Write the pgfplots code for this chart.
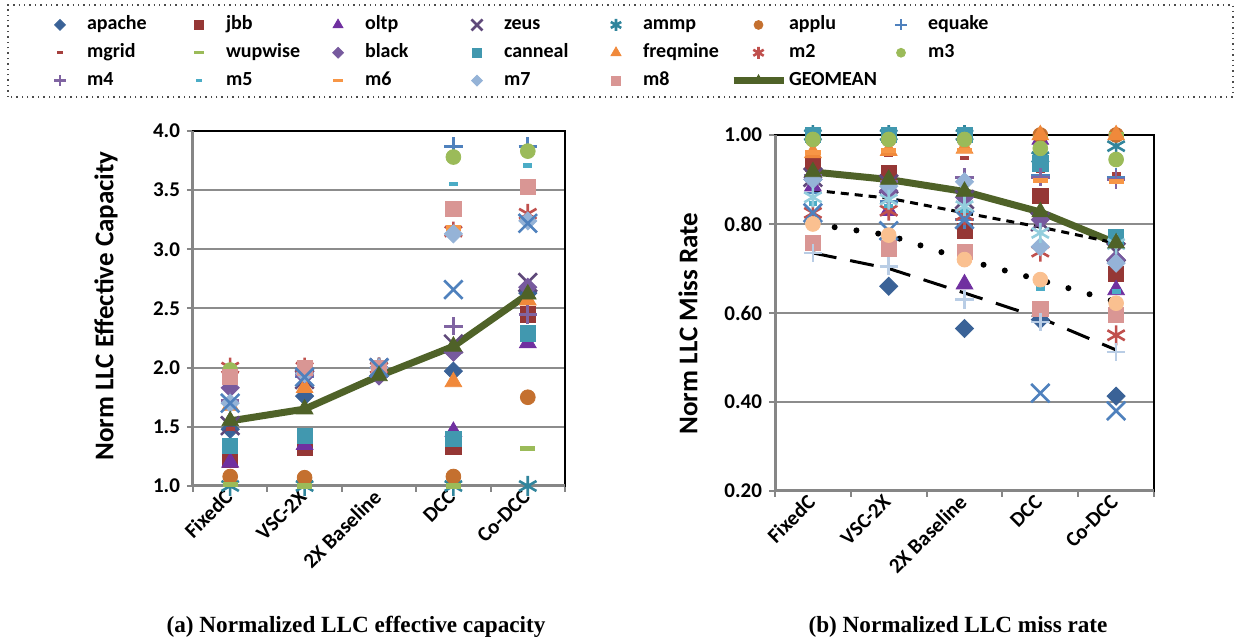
\documentclass[border=0pt]{standalone}
\usepackage{fontspec}
\setmainfont{Carlito}
\newfontfamily\timesfont{Liberation Serif}
\usepackage{pgfplots}
\pgfplotsset{compat=1.18}
\usepackage{pgfplotstable}

\definecolor{capache}{HTML}{3A6297}
\definecolor{cjbb}{HTML}{953735}
\definecolor{coltp}{HTML}{7030A0}
\definecolor{czeus}{HTML}{5F497A}
\definecolor{cammp}{HTML}{31859C}
\definecolor{capplu}{HTML}{C4702F}
\definecolor{cequake}{HTML}{4F81BD}
\definecolor{cmgrid}{HTML}{A5403D}
\definecolor{cwupwise}{HTML}{9BBB59}
\definecolor{cblack}{HTML}{775A9E}
\definecolor{ccanneal}{HTML}{4198AF}
\definecolor{cfreqmine}{HTML}{F0893B}
\definecolor{cmtwo}{HTML}{C0504D}
\definecolor{cmthree}{HTML}{9BBB59}
\definecolor{cmfour}{HTML}{8064A2}
\definecolor{cmfive}{HTML}{4BACC6}
\definecolor{cmsix}{HTML}{F79646}
\definecolor{cmseven}{HTML}{95B3D7}
\definecolor{cmeight}{HTML}{D99694}
\definecolor{cgeo}{HTML}{4F6228}
\definecolor{chx}{HTML}{4F81BD}
\definecolor{chp}{HTML}{B9CDE5}
\definecolor{chc}{HTML}{FAC090}
\definecolor{chs}{HTML}{93CDDD}
\definecolor{axgray}{HTML}{868686}
\definecolor{gridgray}{HTML}{8C8C8C}

\pgfdeclareplotmark{sdash}{\pgfpathrectangle{\pgfpoint{-2.2pt}{-1.1pt}}{\pgfpoint{4.4pt}{2.2pt}}\pgfusepathqfill}
\pgfdeclareplotmark{ldash}{\pgfpathrectangle{\pgfpoint{-3.8pt}{-1.3pt}}{\pgfpoint{7.6pt}{2.6pt}}\pgfusepathqfill}

\pgfplotsset{
 sDiam/.style={only marks, color=#1, mark=square*, mark size=3.2pt, mark options={rotate=45}},
 sSq/.style={only marks, color=#1, mark=square*, mark size=3.8pt},
 sTri/.style={only marks, color=#1, mark=triangle*, mark size=4.8pt},
 sX/.style={only marks, color=#1, mark=x, mark size=6.5pt, line width=1.3pt},
 sAst/.style={only marks, color=#1, mark=asterisk, mark size=5pt, line width=1.3pt},
 sPlus/.style={only marks, color=#1, mark=+, mark size=4.6pt, line width=1.3pt},
 sCirc/.style={only marks, color=#1, mark=*, mark size=3.7pt},
 sSD/.style={only marks, color=#1, mark=sdash},
 sLD/.style={only marks, color=#1, mark=ldash},
 sGeo/.style={color=cgeo, line width=3.5pt, mark=triangle*, mark size=4.8pt, mark options={solid, line width=0.4pt}},
 myaxis/.style={
  scale only axis, clip=false,
  xmin=-0.5, xmax=4.5,
  xtick={0,1,2,3,4}, xticklabels={FixedC,VSC-2X,2X Baseline,DCC,Co-DCC},
  minor xtick={-0.5,0.5,1.5,2.5,3.5,4.5},
  major x tick style={draw=none},
  minor x tick style={draw=axgray, line width=1pt},
  xtick pos=bottom, ytick pos=left,
  tick align=outside,
  major tick length=3pt, minor tick length=3pt,
  ytick style={draw=axgray, line width=1pt},
  ymajorgrids, major grid style={draw=gridgray, line width=1pt},
  axis line style={draw=black, line width=1pt},
  tick label style={font=\fontsize{10.5}{12}\selectfont\bfseries},
  /pgf/number format/assume math mode=true,
  xticklabel style={rotate=45, anchor=east, inner sep=1pt},
  yticklabel style={/pgf/number format/fixed, /pgf/number format/fixed zerofill},
 }
}

\pgfplotstableread{
x apache jbb oltp zeus ammp applu equake mgrid wupwise black canneal freqmine m2 m3 m4 m5 m6 m7 m8 geo hx
0 1.48 1.22 1.20 1.51 1.00 1.08 1.72 1.48 1.01 1.83 1.34 1.68 2.00 1.98 1.72 1.90 1.97 1.70 1.92 1.55 1.70
1 1.76 1.32 1.35 1.90 1.00 1.07 1.92 1.97 1.00 1.93 1.42 1.83 2.00 2.00 1.95 2.00 2.00 1.95 2.00 1.65 1.92
2 2.00 2.00 2.00 2.00 2.00 2.00 2.00 2.00 2.00 1.93 2.00 2.00 2.00 2.00 2.00 2.00 2.00 2.00 2.00 1.93 2.00
3 1.97 1.33 1.46 2.20 1.00 1.08 3.87 3.80 1.00 2.13 1.40 1.88 3.15 3.78 2.35 3.55 3.18 3.13 3.34 2.18 2.66
4 2.63 2.45 2.21 2.72 1.00 1.75 3.87 3.82 1.32 2.68 2.29 2.57 3.30 3.83 2.45 3.71 3.26 3.24 3.53 2.62 3.22
}\capdata

\pgfplotstableread{
x apache jbb oltp zeus ammp applu equake mgrid wupwise black canneal freqmine m2 m3 m4 m5 m6 m7 m8 geo hx hp hc hs la lb lc
0 0.90 0.935 0.885 0.905 1.00 0.99 0.87 0.953 1.00 0.905 1.00 0.96 0.825 0.99 0.91 0.846 0.96 0.90 0.757 0.917 0.825 0.735 0.80 0.86 0.876 0.80 0.735
1 0.66 0.915 0.83 0.89 1.00 0.99 0.85 0.955 1.00 0.875 1.00 0.965 0.83 0.99 0.895 0.84 0.965 0.885 0.745 0.90 0.785 0.705 0.775 0.855 0.858 0.775 0.70
2 0.565 0.785 0.665 0.855 1.00 0.99 0.81 0.948 1.00 0.86 1.00 0.97 0.82 0.99 0.905 0.83 0.965 0.895 0.738 0.873 0.81 0.63 0.72 0.84 0.825 0.72 0.645
3 0.585 0.863 0.99 0.805 0.95 1.00 0.91 0.92 0.995 0.81 0.936 1.00 0.738 0.97 0.905 0.655 0.898 0.749 0.61 0.827 0.42 0.58 0.675 0.78 0.793 0.674 0.589
4 0.413 0.688 0.652 0.737 0.975 1.00 0.905 0.912 1.00 0.72 0.771 1.00 0.55 0.945 0.90 0.648 0.895 0.712 0.596 0.757 0.38 0.512 0.622 0.755 0.757 0.625 0.517
}\missdata

\begin{document}
\begin{tikzpicture}
\useasboundingbox (0,0) rectangle (620.5pt,321pt);

% ---------- left axis ----------
\begin{axis}[myaxis,
  at={(96.5pt,78pt)}, anchor=south west, width=186pt, height=177.5pt,
  ymin=1, ymax=4, ytick={1,1.5,2,2.5,3,3.5,4},
  yticklabel style={/pgf/number format/precision=1},
  ylabel={Norm LLC Effective Capacity},
  every axis y label/.style={at={(axis description cs:-0.234,0.507)}, rotate=90, anchor=center, font=\fontsize{13.5}{15}\selectfont\bfseries},
  legend columns=7, legend cell align=left,
  legend image code/.code={\path[draw=none,fill=none] (0pt,-4pt) rectangle (25pt,4pt); \draw[mark repeat=2,mark phase=2,#1, every mark/.append style={scale=0.6}] plot coordinates {(0pt,0pt) (12.5pt,0pt) (25pt,0pt)};},
  legend style={draw=none, fill=none, inner sep=0pt, outer sep=0pt, at={(-0.4247,1.3297)}, anchor=north west,
    font=\fontsize{10}{11}\selectfont\bfseries,
    nodes={inner sep=1pt, text width=40pt, text height=7pt, text depth=2pt},
    row sep=2.9pt, /tikz/every even column/.append style={column sep=2.5pt}},
]
\addplot[sDiam=capache] table[x=x,y=apache]{\capdata}; \addlegendentry{apache}
\addplot[sSq=cjbb] table[x=x,y=jbb]{\capdata}; \addlegendentry{jbb}
\addplot[sTri=coltp] table[x=x,y=oltp]{\capdata}; \addlegendentry{oltp}
\addplot[sX=czeus] table[x=x,y=zeus]{\capdata}; \addlegendentry{zeus}
\addplot[sAst=cammp] table[x=x,y=ammp]{\capdata}; \addlegendentry{ammp}
\addplot[sCirc=capplu] table[x=x,y=applu]{\capdata}; \addlegendentry{applu}
\addplot[sPlus=cequake] table[x=x,y=equake]{\capdata}; \addlegendentry{equake}
\addplot[sSD=cmgrid] table[x=x,y=mgrid]{\capdata}; \addlegendentry{mgrid}
\addplot[sLD=cwupwise] table[x=x,y=wupwise]{\capdata}; \addlegendentry{wupwise}
\addplot[sDiam=cblack] table[x=x,y=black]{\capdata}; \addlegendentry{black}
\addplot[sSq=ccanneal] table[x=x,y=canneal]{\capdata}; \addlegendentry{canneal}
\addplot[sTri=cfreqmine] table[x=x,y=freqmine]{\capdata}; \addlegendentry{freqmine}
\addplot[sAst=cmtwo] table[x=x,y=m2]{\capdata}; \addlegendentry{m2}
\addplot[sCirc=cmthree] table[x=x,y=m3]{\capdata}; \addlegendentry{m3}
\addplot[sPlus=cmfour] table[x=x,y=m4]{\capdata}; \addlegendentry{m4}
\addplot[sSD=cmfive] table[x=x,y=m5]{\capdata}; \addlegendentry{m5}
\addplot[sLD=cmsix] table[x=x,y=m6]{\capdata}; \addlegendentry{m6}
\addplot[sDiam=cmseven] table[x=x,y=m7]{\capdata}; \addlegendentry{m7}
\addplot[sSq=cmeight] table[x=x,y=m8]{\capdata}; \addlegendentry{m8}
\addplot[sX=chx, forget plot] table[x=x,y=hx]{\capdata};
\addplot[sGeo] table[x=x,y=geo]{\capdata}; \addlegendentry{GEOMEAN}
\draw[axgray, line width=1.5pt] (rel axis cs:0,1) -- (rel axis cs:0,0) -- (rel axis cs:1,0);
\end{axis}

% ---------- right axis ----------
\begin{axis}[myaxis,
  at={(387.5pt,75.5pt)}, anchor=south west, width=189.5pt, height=178pt,
  ymin=0.2, ymax=1.0, ytick={0.2,0.4,0.6,0.8,1.0},
  yticklabel style={/pgf/number format/precision=2},
  ylabel={Norm LLC Miss Rate},
  every axis y label/.style={at={(axis description cs:-0.2296,0.4705)}, rotate=90, anchor=center, font=\fontsize{13.5}{15}\selectfont\bfseries},
]
\addplot[sDiam=capache] table[x=x,y=apache]{\missdata};
\addplot[sSq=cjbb] table[x=x,y=jbb]{\missdata};
\addplot[sTri=coltp] table[x=x,y=oltp]{\missdata};
\addplot[sX=czeus] table[x=x,y=zeus]{\missdata};
\addplot[sAst=cammp] table[x=x,y=ammp]{\missdata};
\addplot[sCirc=capplu] table[x=x,y=applu]{\missdata};
\addplot[sPlus=cequake] table[x=x,y=equake]{\missdata};
\addplot[sSD=cmgrid] table[x=x,y=mgrid]{\missdata};
\addplot[sLD=cwupwise] table[x=x,y=wupwise]{\missdata};
\addplot[sDiam=cblack] table[x=x,y=black]{\missdata};
\addplot[sSq=ccanneal] table[x=x,y=canneal]{\missdata};
\addplot[sTri=cfreqmine] table[x=x,y=freqmine]{\missdata};
\addplot[sAst=cmtwo] table[x=x,y=m2]{\missdata};
\addplot[sCirc=cmthree] table[x=x,y=m3]{\missdata};
\addplot[sPlus=cmfour] table[x=x,y=m4]{\missdata};
\addplot[sSD=cmfive] table[x=x,y=m5]{\missdata};
\addplot[sLD=cmsix] table[x=x,y=m6]{\missdata};
\addplot[sDiam=cmseven] table[x=x,y=m7]{\missdata};
\addplot[sSq=cmeight] table[x=x,y=m8]{\missdata};
\addplot[sX=chx] table[x=x,y=hx]{\missdata};
\addplot[sPlus=chp] table[x=x,y=hp]{\missdata};
\addplot[sCirc=chc] table[x=x,y=hc]{\missdata};
\addplot[sAst=chs] table[x=x,y=hs]{\missdata};
\addplot[sGeo] table[x=x,y=geo]{\missdata};
\addplot[black, line width=1.5pt, dash pattern=on 4pt off 3pt] table[x=x,y=la]{\missdata};
\addplot[black, line width=3pt, line cap=round, dash pattern=on 0pt off 11pt] table[x=x,y=lb]{\missdata};
\addplot[black, line width=1.5pt, dash pattern=on 12pt off 7pt] table[x=x,y=lc]{\missdata};
\draw[axgray, line width=1.5pt] (rel axis cs:0,1) -- (rel axis cs:0,0) -- (rel axis cs:1,0);
\end{axis}

% legend frame
\draw[black!70, dotted, line width=0.7pt] (4pt,272.5pt) rectangle (616.5pt,318.5pt);
% captions
\node[font=\timesfont\fontsize{11.6}{13}\selectfont\bfseries] at (178pt,7.5pt) {(a) Normalized LLC effective capacity};
\node[font=\timesfont\fontsize{11.6}{13}\selectfont\bfseries] at (479pt,7.5pt) {(b) Normalized LLC miss rate};
\end{tikzpicture}
\end{document}
